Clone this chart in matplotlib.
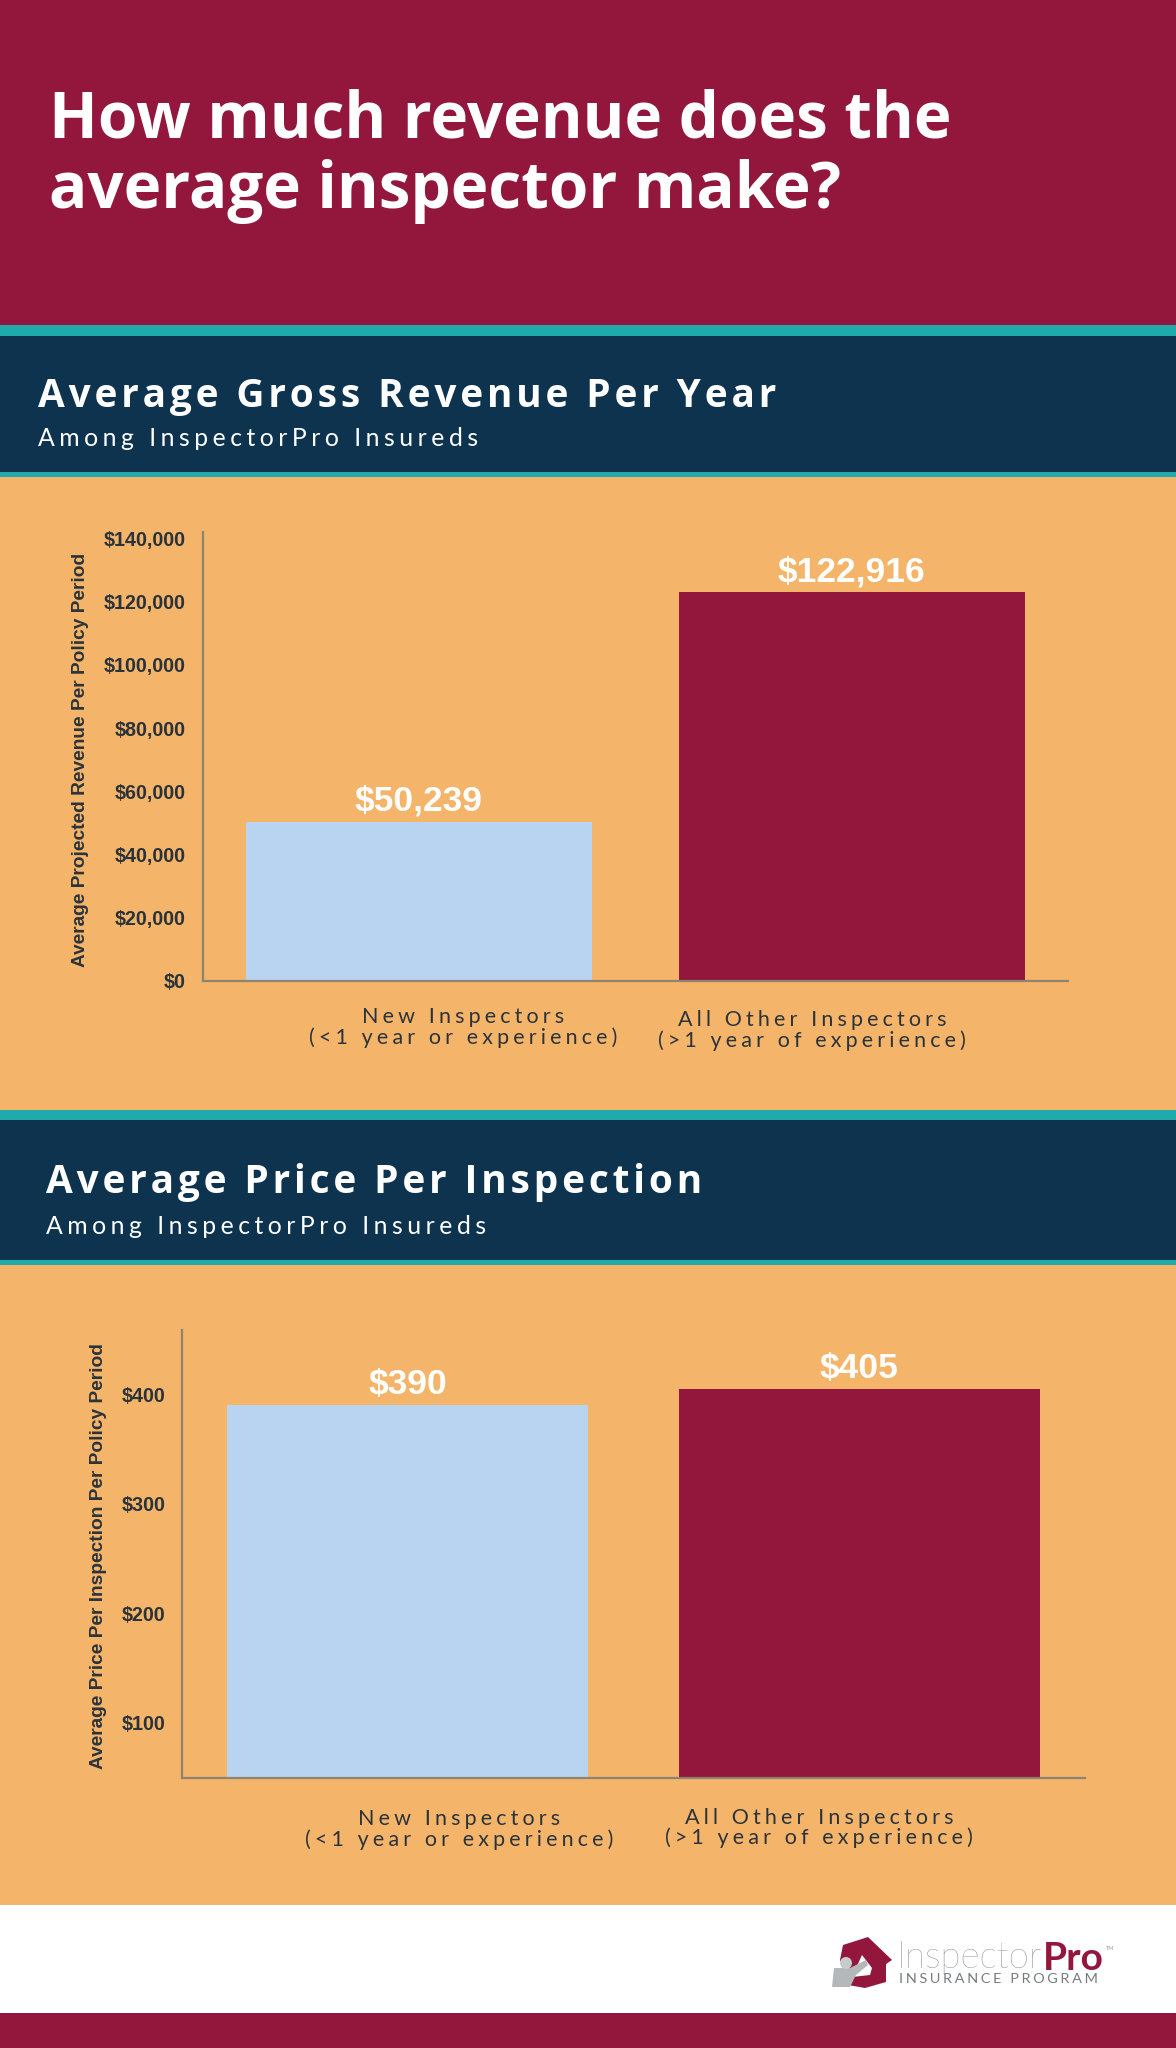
import matplotlib
matplotlib.use('Agg')
import matplotlib.pyplot as plt
from matplotlib.patches import Polygon, Circle, Rectangle

W, H = 1176, 2048
MAROON = '#93173C'
TEAL = '#1FAAAB'
NAVY = '#0D334F'
ORANGE = '#F4B56B'
BLUE = '#B8D4F0'
AXIS = '#8E8272'
DARK = '#2B333A'

# data
revenue_cats = ['New Inspectors', 'All Other Inspectors']
revenue_vals = [50239, 122916]
revenue_ticks = [0, 20000, 40000, 60000, 80000, 100000, 120000, 140000]
revenue_labels = ['$0', '$20,000', '$40,000', '$60,000', '$80,000', '$100,000', '$120,000', '$140,000']
revenue_bar_labels = ['$50,239', '$122,916']

price_cats = ['New Inspectors', 'All Other Inspectors']
price_vals = [390, 405]
price_ticks = [100, 200, 300, 400]
price_labels = ['$100', '$200', '$300', '$400']
price_bar_labels = ['$390', '$405']
bar_colors = [BLUE, MAROON]


def spaced(s, n=1):
    # no letter spacing in matplotlib, hair spaces get close
    return ('\u200a' * n).join(s)


fig = plt.figure(figsize=(W / 100, H / 100), dpi=100)

# background bands, in pixels
bg = fig.add_axes([0, 0, 1, 1])
bg.set_xlim(0, W)
bg.set_ylim(H, 0)
bg.axis('off')
bands = [(0, 325, MAROON), (325, 336, TEAL), (336, 472, NAVY), (472, 477, TEAL),
         (477, 1110, ORANGE), (1110, 1120, TEAL), (1120, 1260, NAVY), (1260, 1265, TEAL),
         (1265, 1905, ORANGE), (1905, 2013, 'white'), (2013, 2048, MAROON)]
for top, bottom, c in bands:
    bg.add_patch(Rectangle((0, top), W, bottom - top, color=c, lw=0))

head = ['Open Sans', 'DejaVu Sans']
light = ['Lato', 'DejaVu Sans']
bg.text(49, 121, 'How much revenue does the', color='white', fontsize=45.9, fontweight='bold', family=head, va='center')
bg.text(49, 192, 'average inspector make?', color='white', fontsize=45.9, fontweight='bold', family=head, va='center')

bg.text(38, 396, spaced('Average Gross Revenue Per Year'), color='white', fontsize=27.9, fontweight='bold', family=head, va='center')
bg.text(38, 438, spaced('Among InspectorPro Insureds', 3), color='white', fontsize=17.8, family=light, va='center')
bg.text(46, 1183, spaced('Average Price Per Inspection'), color='white', fontsize=27.9, fontweight='bold', family=head, va='center')
bg.text(46, 1227, spaced('Among InspectorPro Insureds', 3), color='white', fontsize=17.8, family=light, va='center')


def cat_label(x, y1, y2, a, b):
    bg.text(x, y1 + 1, spaced(a, 3), color=DARK, fontsize=15.5, family=light, ha='center', va='center')
    bg.text(x, y2 + 1, spaced(b, 3), color=DARK, fontsize=15.5, family=light, ha='center', va='center')


cat_label(463, 1016, 1037, revenue_cats[0], '(<1 year or experience)')
cat_label(812, 1019, 1040, revenue_cats[1], '(>1 year of experience)')
cat_label(459, 1818, 1839, price_cats[0], '(<1 year or experience)')
cat_label(819, 1817, 1837, price_cats[1], '(>1 year of experience)')

bg.text(81, 760, 'Average Projected Revenue Per Policy Period', color=DARK, fontsize=13.8, fontweight='bold',
        family='Liberation Sans', rotation=90, ha='center', va='center')
bg.text(99, 1556, 'Average Price Per Inspection Per Policy Period', color=DARK, fontsize=13.8, fontweight='bold',
        family='Liberation Sans', rotation=90, ha='center', va='center')


def bar_chart(box, vals, ylim, ticks, labels, bar_labels):
    left, right, top, bottom = box
    ax = fig.add_axes([left / W, 1 - bottom / H, (right - left) / W, (bottom - top) / H])
    ax.patch.set_alpha(0)
    ax.bar([0, 1], vals, width=0.8, color=bar_colors)
    ax.set_xlim(-0.5, 1.5)
    ax.set_ylim(*ylim)
    ax.set_xticks([])
    ax.set_yticks(ticks)
    ax.set_yticklabels(labels, family='Liberation Sans', fontweight='bold', fontsize=14.2, color=DARK)
    ax.tick_params(axis='y', length=0, pad=12)
    for s in ['top', 'right']:
        ax.spines[s].set_visible(False)
    for s in ['left', 'bottom']:
        ax.spines[s].set_color(AXIS)
        ax.spines[s].set_linewidth(1.6)
    for i, v in enumerate(vals):
        ax.annotate(bar_labels[i], (i, v), xytext=(0, 15), textcoords='offset points', ha='center', va='center',
                    color='white', fontsize=25.5, fontweight='bold', family='Liberation Sans')
    return ax


bar_chart((202.5, 1068, 532, 981), revenue_vals, (0, 142000), revenue_ticks, revenue_labels, revenue_bar_labels)
bar_chart((182, 1085, 1330, 1778), price_vals, (49, 459), price_ticks, price_labels, price_bar_labels)

# logo
bg.add_patch(Polygon([(843, 1945), (868, 1937), (892, 1960), (886, 1964), (886, 1982), (865, 1988),
                      (848, 1985), (840, 1960)], color=MAROON, lw=0))
bg.add_patch(Polygon([(862, 1955), (872, 1968), (870, 1975), (852, 1977)], color='white', lw=0))
bg.add_patch(Polygon([(832, 1987), (834, 1968), (850, 1968), (866, 1960), (868, 1965), (856, 1975), (850, 1987)],
                     color='#B4B8BA', lw=0))
bg.add_patch(Circle((846, 1963), 6, color='#C8CBCC', lw=0))
bg.text(897, 1958, 'Inspector', color='#666A6D', fontsize=26.5, family='Lato', fontweight='light', va='center')
bg.text(1043, 1958, 'Pro', color=MAROON, fontsize=28, family='Lato', fontweight='bold', va='center')
bg.text(1106, 1948, 'TM', color='#999999', fontsize=4, family='Lato', va='center')
bg.text(899, 1979, spaced('INSURANCE PROGRAM', 3), color='#777B7E', fontsize=10.4, family='Lato', va='center')

fig.savefig('out.png', dpi=100)
